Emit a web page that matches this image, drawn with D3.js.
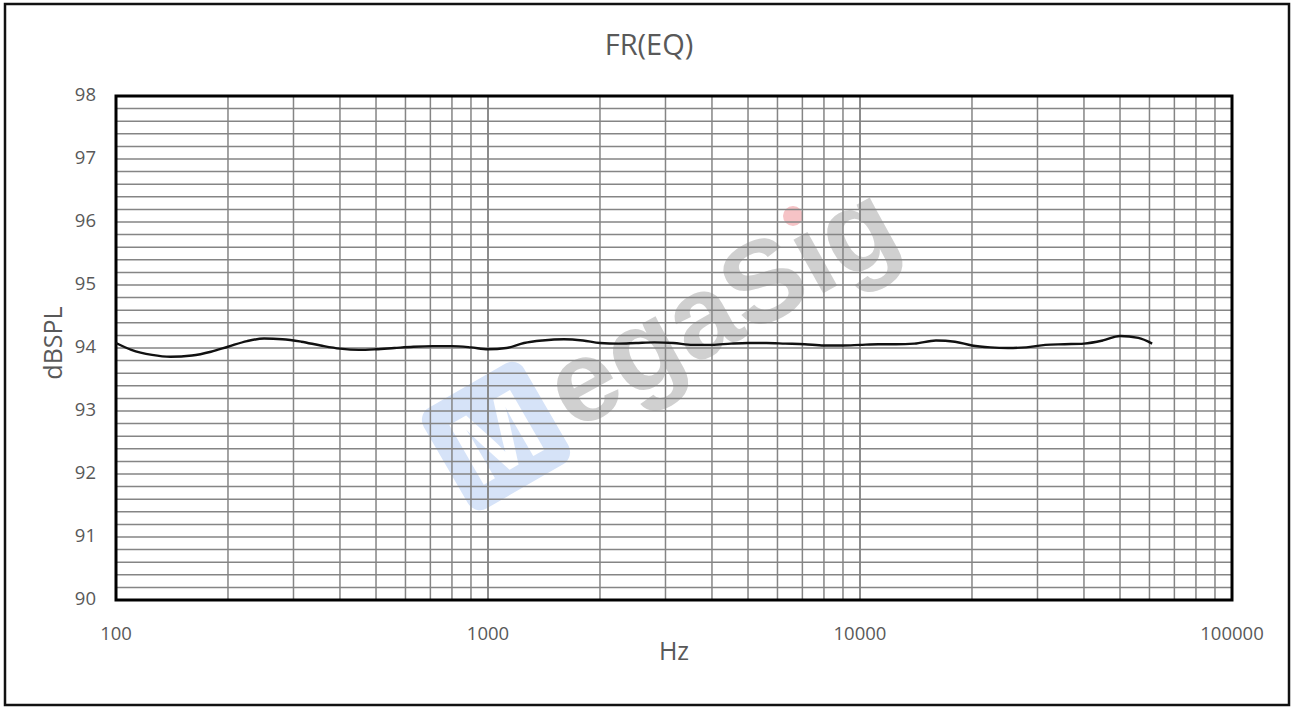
<!DOCTYPE html>
<meta charset="utf-8">
<style>
body { margin: 0; background: #fff; }
.grid line { stroke: #858585; stroke-width: 1.5px; }
.tick-label { font: 18.5px "Open Sans", sans-serif; fill: #595959; }
.title { font: 29px "Open Sans", sans-serif; fill: #595959; }
.axis-title { font: 25px "Open Sans", sans-serif; fill: #595959; }
.curve { fill: none; stroke: #111; stroke-width: 2.4px; }
</style>
<body>
<script src="https://cdn.jsdelivr.net/npm/d3@7"></script>
<script>

// frequency response data
var freqs = [100, 110, 125, 140, 160, 180, 200, 225, 250, 280, 315, 355, 400, 450, 500,
  560, 630, 710, 800, 900, 1000, 1120, 1250, 1400, 1600, 1800, 2000, 2240, 2500, 2800,
  3150, 3550, 4000, 4500, 5000, 5600, 6300, 7100, 8000, 9000, 10000, 11200, 12500, 14000,
  16000, 18000, 20000, 22400, 25000, 28000, 31500, 35500, 40000, 45000, 50000, 56000, 61000];
var spl = [94.08, 93.97, 93.89, 93.86, 93.88, 93.94, 94.02, 94.11, 94.15, 94.14, 94.10, 94.04, 93.99, 93.97, 93.98,
  94.00, 94.02, 94.03, 94.03, 94.01, 93.98, 94.00, 94.08, 94.12, 94.14, 94.12, 94.08, 94.07, 94.08, 94.09,
  94.08, 94.05, 94.05, 94.07, 94.08, 94.08, 94.07, 94.06, 94.04, 94.04, 94.05, 94.06, 94.06, 94.07,
  94.12, 94.10, 94.04, 94.01, 94.00, 94.01, 94.05, 94.06, 94.07, 94.12, 94.19, 94.16, 94.07];

var xTicks = [100, 1000, 10000, 100000];
var yTicks = [90, 91, 92, 93, 94, 95, 96, 97, 98];

var W = 1293, H = 707;
var margin = {top: 96, right: 61, bottom: 107, left: 116};
var pw = W - margin.left - margin.right,
    ph = H - margin.top - margin.bottom;

var x = d3.scaleLog().domain([100, 100000]).range([0, pw]);
var y = d3.scaleLinear().domain([90, 98]).range([ph, 0]);

var svg = d3.select("body").append("svg")
    .attr("width", W)
    .attr("height", H);

// outer frame
svg.append("rect")
    .attr("x", 5).attr("y", 4)
    .attr("width", W - 9).attr("height", H - 6)
    .attr("fill", "none").attr("stroke", "#111").attr("stroke-width", 2.5);

svg.append("text")
    .attr("class", "title")
    .attr("x", 649).attr("y", 55)
    .attr("text-anchor", "middle")
    .text("FR(EQ)");

var g = svg.append("g")
    .attr("transform", "translate(" + margin.left + "," + margin.top + ")");

// watermark
var box = g.append("g")
    .attr("transform", "translate(" + (496 - margin.left) + "," + (436 - margin.top) + ") rotate(-30)");
box.append("rect")
    .attr("x", -58).attr("y", -58).attr("width", 116).attr("height", 116)
    .attr("rx", 14).attr("fill", "#d6e3f8");
box.append("text")
    .attr("x", 0).attr("y", 36)
    .attr("text-anchor", "middle")
    .style("font", "bold 100px 'Liberation Sans', sans-serif")
    .attr("fill", "#fff")
    .text("M");
var wm = g.append("g")
    .attr("transform", "translate(" + (587 - margin.left) + "," + (390 - margin.top) + ") rotate(-29)");
wm.append("text")
    .attr("x", -32).attr("y", 30)
    .style("font", "bold 116px 'Liberation Sans', sans-serif")
    .attr("fill", "#d0d0d0")
    .text("egaSıg");
g.append("circle")
    .attr("cx", 793 - margin.left).attr("cy", 216 - margin.top)
    .attr("r", 10).attr("fill", "#f6c3c6");

// grid lines
var grid = g.append("g").attr("class", "grid");
var yMinor = d3.range(90, 98.01, 0.2);
grid.selectAll(".hline")
    .data(yMinor)
  .enter().append("line")
    .attr("x1", 0).attr("x2", pw)
    .attr("y1", function(d) { return y(d); })
    .attr("y2", function(d) { return y(d); });

var xMinor = [];
[100, 1000, 10000].forEach(function(dec) {
  for (var k = 1; k <= 10; k++) xMinor.push(dec * k);
});
grid.selectAll(".vline")
    .data(xMinor)
  .enter().append("line")
    .attr("x1", function(d) { return x(d); })
    .attr("x2", function(d) { return x(d); })
    .attr("y1", 0).attr("y2", ph);

// plot frame
g.append("rect")
    .attr("width", pw).attr("height", ph)
    .attr("fill", "none").attr("stroke", "#000").attr("stroke-width", 3);

// the curve
var line = d3.line()
    .x(function(d, i) { return x(freqs[i]); })
    .y(function(d) { return y(d); })
    .curve(d3.curveMonotoneX);

g.append("path")
    .datum(spl)
    .attr("class", "curve")
    .attr("d", line);

// tick labels
g.selectAll(".ylab")
    .data(yTicks)
  .enter().append("text")
    .attr("class", "tick-label")
    .attr("x", -20)
    .attr("y", function(d) { return y(d); })
    .attr("dy", "0.25em")
    .attr("text-anchor", "end")
    .text(function(d) { return d; });

g.selectAll(".xlab")
    .data(xTicks)
  .enter().append("text")
    .attr("class", "tick-label")
    .attr("x", function(d) { return x(d); })
    .attr("y", ph + 40)
    .attr("text-anchor", "middle")
    .text(function(d) { return d; });

svg.append("text")
    .attr("class", "axis-title")
    .attr("x", 674).attr("y", 660)
    .attr("text-anchor", "middle")
    .text("Hz");

svg.append("text")
    .attr("class", "axis-title")
    .attr("transform", "translate(62,343) rotate(-90)")
    .attr("text-anchor", "middle")
    .text("dBSPL");

</script>
</body>
